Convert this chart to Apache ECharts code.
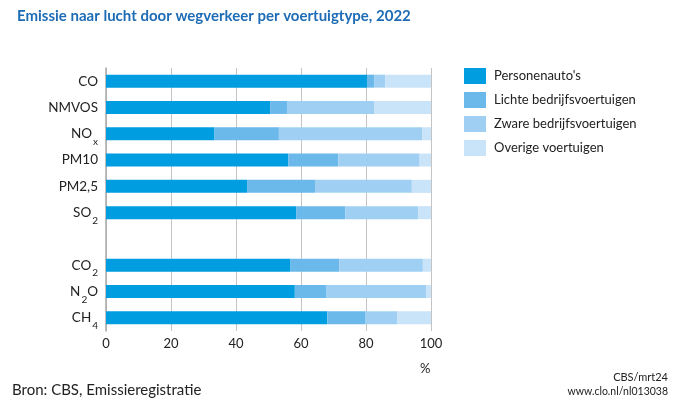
<!DOCTYPE html>
<html>
<head>
<meta charset="utf-8">
<script src="https://cdn.jsdelivr.net/npm/echarts@6/dist/echarts.min.js"></script>
<style>html,body{margin:0;padding:0;background:#fff}#c{width:680px;height:400px}</style>
</head>
<body>
<div id="c"></div>
<script>
const categories = ['CO', 'NMVOS', 'NOx', 'PM10', 'PM2,5', 'SO2', '', 'CO2', 'N2O', 'CH4'];
const seriesNames = ["Personenauto's", 'Lichte bedrijfsvoertuigen', 'Zware bedrijfsvoertuigen', 'Overige voertuigen'];
const personenauto = [80.3, 50.5, 33.4, 56.1, 43.4, 58.5, null, 56.8, 58.1, 68.1];
const lichte = [2.2, 5.2, 19.8, 15.4, 20.9, 15.1, null, 15.0, 9.6, 11.8];
const zware = [3.4, 26.8, 44.1, 25.0, 29.8, 22.5, null, 25.7, 30.8, 9.7];
const overige = [14.1, 17.5, 2.7, 3.5, 5.9, 3.9, null, 2.5, 1.5, 10.4];
const xTicks = [0, 20, 40, 60, 80, 100];
const colors = ['#009ee0', '#6bb9ea', '#9fd0f3', '#c9e3f8'];

const FONT = 'Lato';
const labelMap = {
  'NOx': '{m|NO}{s|x}',
  'SO2': '{m|SO}{s|2}',
  'CO2': '{m|CO}{s|2}',
  'N2O': '{m|N}{s|2}{m|O}',
  'CH4': '{m|CH}{s|4}'
};
const values = [personenauto, lichte, zware, overige];

const chart = echarts.init(document.getElementById('c'), null, {renderer: 'canvas'});
chart.setOption({
  animation: false,
  textStyle: {fontFamily: FONT},
  title: {
    text: 'Emissie naar lucht door wegverkeer per voertuigtype, 2022',
    left: 12, top: 4,
    textStyle: {fontFamily: FONT, fontWeight: 'bold', fontSize: 15, color: '#1d6cb5'}
  },
  legend: {
    orient: 'vertical',
    left: 459, top: 63,
    itemWidth: 22, itemHeight: 16, itemGap: 8,
    icon: 'rect',
    data: seriesNames,
    textStyle: {fontFamily: FONT, fontSize: 13, color: '#222', padding: [0, 0, 0, 3]}
  },
  grid: {left: 106, right: 249, top: 68, bottom: 69, containLabel: false, outerBoundsMode: 'none'},
  xAxis: {
    type: 'value', min: xTicks[0], max: xTicks[xTicks.length - 1], interval: 20,
    axisLine: {show: false}, axisTick: {show: false},
    splitLine: {show: true, lineStyle: {color: '#c4c4c4', width: 1}},
    axisLabel: {fontFamily: FONT, fontSize: 13, color: '#222', margin: 6}
  },
  yAxis: {
    type: 'category', inverse: true, data: categories,
    axisLine: {show: true, lineStyle: {color: '#aaaaaa', width: 1.5}},
    axisTick: {show: false},
    axisLabel: {
      margin: 8,
      formatter: v => labelMap[v] || (v ? '{m|' + v + '}' : ''),
      rich: {
        m: {fontFamily: FONT, fontSize: 13.5, color: '#222', lineHeight: 26, verticalAlign: 'middle'},
        s: {fontFamily: FONT, fontSize: 10, color: '#222', verticalAlign: 'bottom', lineHeight: 10, padding: [0, 0, 0, 1]}
      }
    }
  },
  series: seriesNames.map((n, i) => ({
    name: n, type: 'bar', stack: 'total', barWidth: 13,
    itemStyle: {color: colors[i]},
    data: values[i]
  })),
  graphic: [
    {type: 'text', left: 420, top: 362, style: {text: '%', fontFamily: FONT, fontSize: 13, fill: '#222'}},
    {type: 'text', left: 12, top: 383, style: {text: 'Bron: CBS, Emissieregistratie', fontFamily: FONT, fontSize: 15, fill: '#222'}},
    {type: 'text', right: 12, top: 372, style: {text: 'CBS/mrt24', fontFamily: FONT, fontSize: 11, fill: '#222', align: 'right'}},
    {type: 'text', right: 12, top: 386, style: {text: 'www.clo.nl/nl013038', fontFamily: FONT, fontSize: 10.5, fill: '#222', align: 'right'}}
  ]
});
</script>
</body>
</html>
